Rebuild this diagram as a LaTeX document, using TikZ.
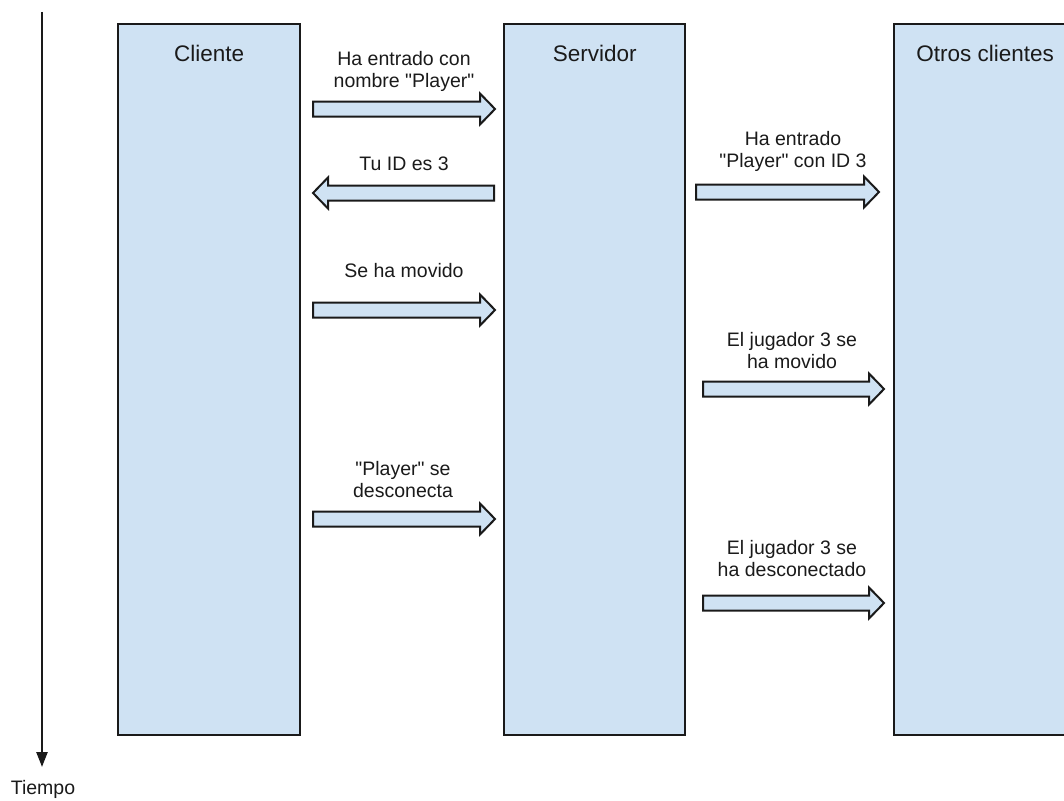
\documentclass[tikz,border=0pt]{standalone}
\usepackage{fontspec}
\setmainfont{Liberation Sans}[Ligatures=TeXOff]
\usetikzlibrary{arrows.meta}
\definecolor{lanefill}{HTML}{CFE2F3}
\definecolor{ink}{HTML}{1A1A1A}
\begin{document}
\begin{tikzpicture}[x=1pt,y=-1pt,
  lane/.style={draw=ink, line width=2.4pt, fill=lanefill, rectangle,
    inner sep=0pt, anchor=north west, minimum width=182pt, minimum height=711pt},
  lanetitle/.style={anchor=base, inner sep=0pt, text=ink,
    font=\fontsize{22.5}{26}\selectfont},
  msgtext/.style={anchor=base, inner sep=0pt, align=center, text=ink,
    font=\fontsize{19.5}{21.5}\selectfont},
  msg/.style={draw=ink, line width=2pt, fill=lanefill, line join=miter},
  pics/blockarrow/.style={code={
    \draw[msg] (0,-7.5) -- (#1-15,-7.5) -- (#1-15,-15.5) -- (#1,0)
      -- (#1-15,15.5) -- (#1-15,7.5) -- (0,7.5) -- cycle;}}
]
\useasboundingbox (0,0) rectangle (1064,800);
\clip (0,0) rectangle (1064,800);

% time axis
\coordinate (tstart) at (42,12);
\coordinate (tend) at (42,767);
\draw[ink, line width=2.5pt, -{Triangle[width=11pt,length=15pt]}] (tstart) -- (tend);
\node[msgtext] (tiempo) at (43,794) {Tiempo};

% lanes
\node[lane] (cliente) at (117,23) {};
\node[lane, minimum width=181pt] (servidor) at (503,23) {};
\node[lane] (otros) at (893,23) {};

\node[lanetitle] (tcliente) at ([yshift=-39pt]cliente.north) {Cliente};
\node[lanetitle] (tservidor) at ([yshift=-39pt]servidor.north) {Servidor};
\node[lanetitle] (totros) at ([yshift=-39pt]otros.north) {Otros clientes};

% messages between client and server (label anchored on its last line)
\pic at (313,109) {blockarrow=182};
\node[msgtext] (m1) at (404,87) {Ha entrado con\\nombre "Player"};

\pic[xscale=-1] at (494,193) {blockarrow=181};
\node[msgtext] (m2) at (404,170) {Tu ID es 3};

\pic at (313,310) {blockarrow=182};
\node[msgtext] (m3) at (404,277) {Se ha movido};

\pic at (313,519) {blockarrow=182};
\node[msgtext] (m6) at (403,497) {"Player" se\\desconecta};

% messages from server to the other clients
\pic at (696,192) {blockarrow=183};
\node[msgtext] (m4) at (793,167) {Ha entrado\\"Player" con ID 3};

\pic at (703,389) {blockarrow=181};
\node[msgtext] (m5) at (792,368) {El jugador 3 se\\ha movido};

\pic at (703,603) {blockarrow=181};
\node[msgtext] (m7) at (792,576) {El jugador 3 se\\ha desconectado};
\end{tikzpicture}
\end{document}
